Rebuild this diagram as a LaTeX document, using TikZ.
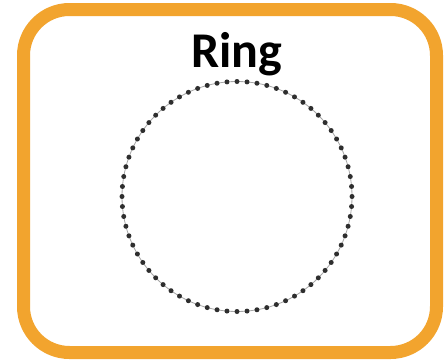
\documentclass[tikz,border=0pt]{standalone}
\usepackage{fontspec}
\setmainfont{Carlito}
\usetikzlibrary{positioning,calc}

\definecolor{frameorange}{HTML}{F2A42E}
\definecolor{beadgray}{HTML}{2E2E2E}

\begin{document}
\begin{tikzpicture}[
    x=1pt, y=-1pt,
    frame/.style={draw=frameorange, line width=13pt, rounded corners=46pt},
    title/.style={font=\bfseries\fontsize{50}{50}\selectfont, inner sep=0pt},
    wire/.style={draw=gray!70, line width=0.8pt},
    bead/.style={circle, fill=beadgray, inner sep=0pt, minimum size=5pt}
]
\useasboundingbox (0,0) rectangle (444,362);
\fill[white] (0,0) rectangle (444,362);
\draw[frame] (23.5,9.5) rectangle (436.5,352.5);

\node[title, anchor=base] (ringtitle) at (237,67) {Ring};

\coordinate (ringcentre) at (237,196.5);
\draw[wire] (ringcentre) circle[radius=115pt];
\foreach \i in {1,...,72}{
  \node[bead] (bead\i) at ($(ringcentre)+({\i*5}:115pt)$) {};
}
\end{tikzpicture}
\end{document}
